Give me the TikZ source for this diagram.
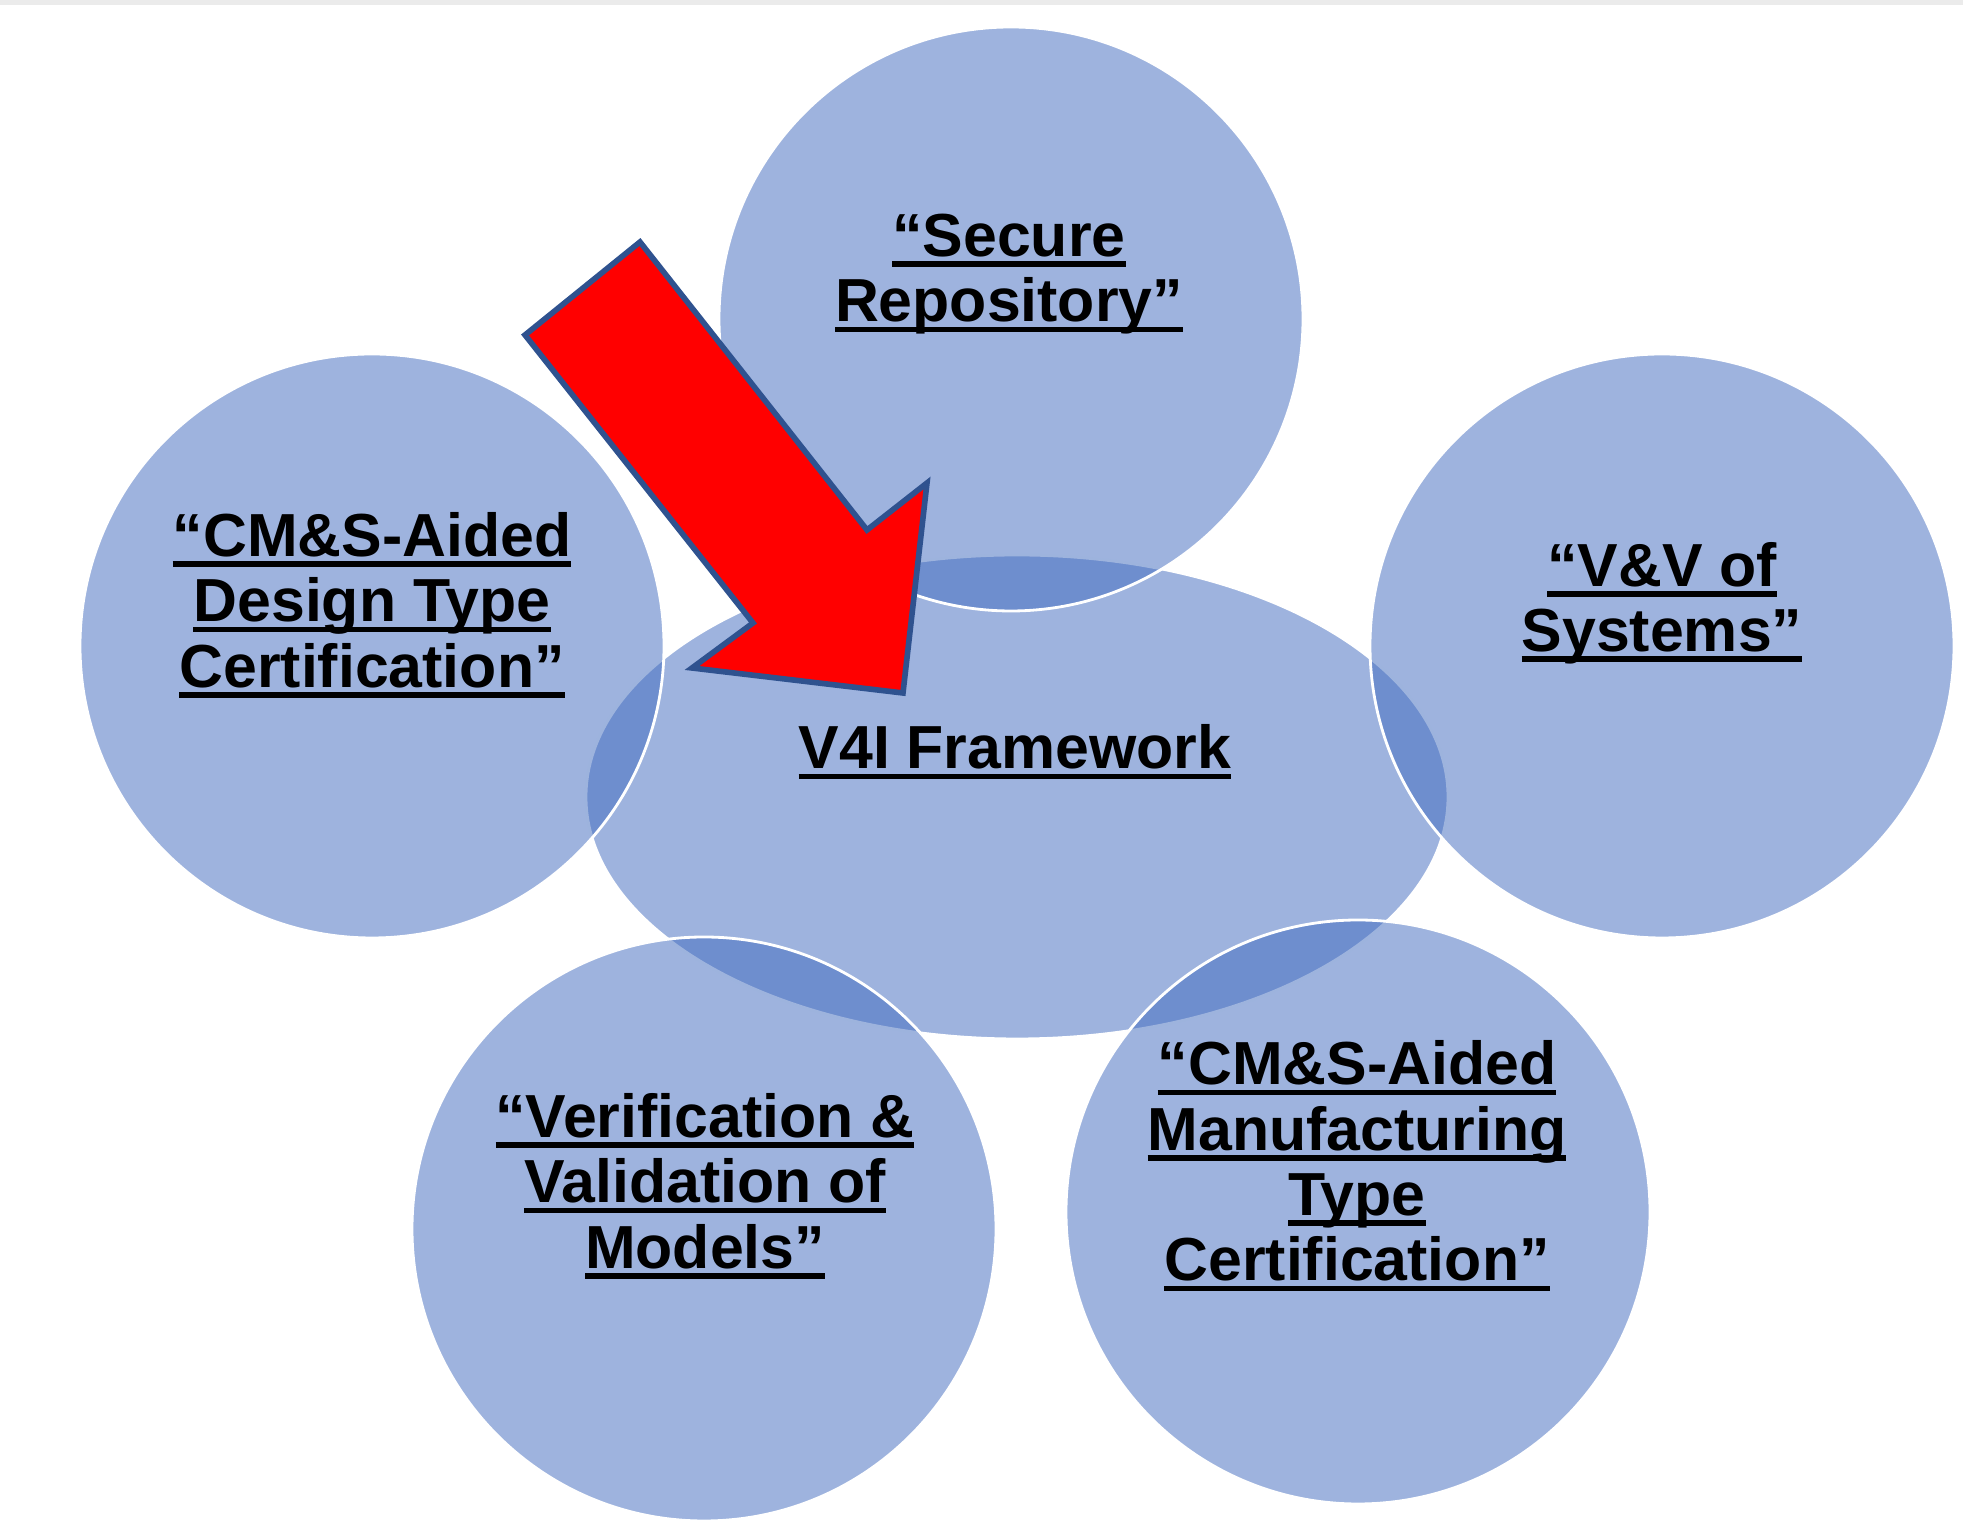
\documentclass[tikz,border=0pt]{standalone}
\usepackage{fontspec}
\setmainfont{Liberation Sans}
\usetikzlibrary{shapes.geometric}

\definecolor{bubbleblue}{RGB}{64,106,190}
\definecolor{arrowred}{RGB}{255,0,0}
\definecolor{arrowedge}{RGB}{47,82,143}

% underline at a fixed depth, across the whole line
\newcommand{\ulword}[1]{\setbox0=\hbox{#1}\rlap{\rule[-1.05mm]{\wd0}{0.55mm}}\box0}

\begin{document}
\begin{tikzpicture}[x=0.1mm, y=-0.1mm,
                    bubble/.style={circle, minimum size=58.4mm, inner sep=0pt, fill=bubbleblue, fill opacity=0.51, draw=white, draw opacity=1, line width=0.8pt},
                    hub/.style={ellipse, minimum width=86.2mm, minimum height=48.4mm, inner sep=0pt, fill=bubbleblue, fill opacity=0.51, draw=white, draw opacity=1, line width=0.8pt},
                    caption/.style={align=center, font=\fontsize{17.3}{18.6}\selectfont\bfseries, text=black, inner sep=0pt}]

                    \useasboundingbox (0,0) rectangle (1963,1524);
                    \fill[black!8] (0,0) rectangle (1963,5); % faint top edge

                    % Center ellipse first, the circles lie over it
                    \node[hub] (frame) at (1017,797) {};

                    % Outer circles
                    \node[bubble] (secure) at (1011,319) {};   % Top
                    \node[bubble] (design) at (372,646) {};    % Left
                    \node[bubble] (vvsys) at (1662,646) {};    % Right
                    \node[bubble] (vvmodels) at (704,1229) {}; % Bottom left
                    \node[bubble] (manuf) at (1358,1212) {};   % Bottom right

                    % Red arrow pointing into the framework
                    \draw[fill=arrowred, draw=arrowedge, line width=1.6pt, line join=miter]
                        (640,242) -- (867,530) -- (927,483) -- (903,693) -- (692,668) -- (753,623) -- (525,335) -- cycle;

                    % Labels
                    \node[caption] (secureText) at (1009,274) {\ulword{“Secure}\\\ulword{Repository”}};
                    \node[caption] (designText) at (372,605) {\ulword{“CM\&S-Aided}\\\ulword{Design Type}\\\ulword{Certification”}};
                    \node[caption] (vvsysText) at (1662,603) {\ulword{“V\&V of}\\\ulword{Systems”}};
                    \node[caption] (frameText) at (1015,752) {\ulword{V4I Framework}};
                    \node[caption] (vvmodelsText) at (705,1186) {\ulword{“Verification \&}\\\ulword{Validation of}\\\ulword{Models”}};
                    \node[caption] (manufText) at (1357,1166) {\ulword{“CM\&S-Aided}\\\ulword{Manufacturing}\\\ulword{Type}\\\ulword{Certification”}};
                \end{tikzpicture}
\end{document}
